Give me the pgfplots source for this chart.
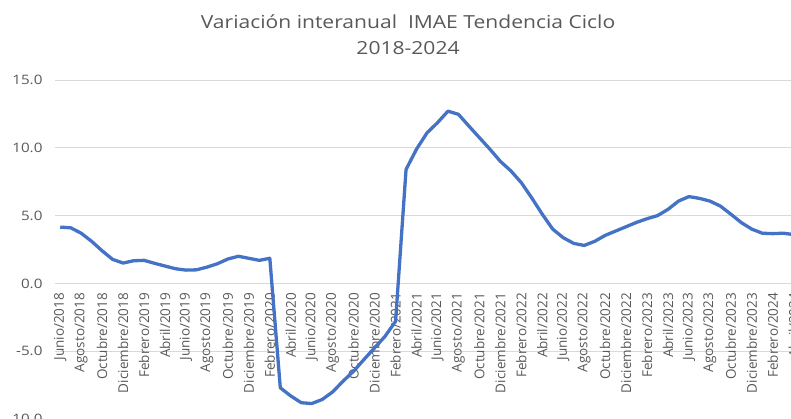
\documentclass[border=0pt]{standalone}
\usepackage{fontspec}
\setmainfont{Open Sans}
\newfontfamily\widefont[FakeStretch=1.17]{Open Sans}
\usepackage{pgfplots}
\pgfplotsset{compat=1.18}
\definecolor{txtgray}{HTML}{595959}
\definecolor{gridgray}{HTML}{D9D9D9}
\definecolor{lineblue}{HTML}{4472C4}
\begin{document}
\begin{tikzpicture}
\begin{axis}[
  scale only axis,
  width=744pt, height=339pt,
  xmin=-0.5, xmax=70.5,
  ymin=-10, ymax=15,
  axis x line=middle,
  axis y line=left,
  x axis line style={gridgray, line width=0.9pt, -},
  y axis line style={draw=none},
  major tick length=0pt,
  ytick={-10,-5,0,5,10,15},
  ymajorgrids,
  grid style={gridgray, line width=0.9pt},
  xtick={0,2,...,70},
  xticklabels={Junio/2018,Agosto/2018,Octubre/2018,Diciembre/2018,Febrero/2019,Abril/2019,Junio/2019,Agosto/2019,Octubre/2019,Diciembre/2019,Febrero/2020,Abril/2020,Junio/2020,Agosto/2020,Octubre/2020,Diciembre/2020,Febrero/2021,Abril/2021,Junio/2021,Agosto/2021,Octubre/2021,Diciembre/2021,Febrero/2022,Abril/2022,Junio/2022,Agosto/2022,Octubre/2022,Diciembre/2022,Febrero/2023,Abril/2023,Junio/2023,Agosto/2023,Octubre/2023,Diciembre/2023,Febrero/2024,Abril/2024},
  xticklabel style={rotate=90, anchor=east, font=\fontsize{13.5}{15}\selectfont, text=txtgray},
  xticklabel shift=6pt,
  yticklabel style={font=\widefont\fontsize{13}{15}\selectfont, text=txtgray, xshift=-9pt},
  /pgf/number format/.cd, fixed, fixed zerofill, precision=1, assume math mode=true,
]
\addplot[lineblue, line width=3.3pt, line join=round] coordinates {
(0,4.15) (1,4.1) (2,3.7) (3,3.1) (4,2.4) (5,1.77) (6,1.5) (7,1.67) (8,1.7) (9,1.48)
(10,1.28) (11,1.08) (12,0.98) (13,1.0) (14,1.2) (15,1.45) (16,1.8) (17,2.0) (18,1.85) (19,1.7)
(20,1.85) (21,-7.7) (22,-8.3) (23,-8.8) (24,-8.86) (25,-8.56) (26,-8.0) (27,-7.2) (28,-6.47) (29,-5.6)
(30,-4.75) (31,-3.9) (32,-2.8) (33,8.4) (34,9.9) (35,11.1) (36,11.85) (37,12.7) (38,12.47) (39,11.6)
(40,10.75) (41,9.9) (42,9.0) (43,8.3) (44,7.43) (45,6.3) (46,5.1) (47,4.0) (48,3.37) (49,2.95)
(50,2.8) (51,3.1) (52,3.54) (53,3.86) (54,4.18) (55,4.5) (56,4.77) (57,5.0) (58,5.46) (59,6.07)
(60,6.4) (61,6.27) (62,6.07) (63,5.7) (64,5.1) (65,4.48) (66,4.0) (67,3.7) (68,3.67) (69,3.7)
(70,3.6)
};
\coordinate (bl) at (rel axis cs:0,0);
\coordinate (tr) at (rel axis cs:1,1);
\coordinate (tt) at (rel axis cs:0.4745,1);
\end{axis}
\node[anchor=base, text=txtgray, font=\widefont\fontsize{18}{20}\selectfont] at ([yshift=51pt]tt) {Variación interanual\ \ IMAE Tendencia Ciclo};
\node[anchor=base, text=txtgray, font=\widefont\fontsize{18}{20}\selectfont] at ([yshift=25pt]tt) {2018-2024};
\pgfresetboundingbox
\useasboundingbox ([xshift=-55pt]bl) rectangle ([xshift=-8pt, yshift=80pt]tr);
\end{tikzpicture}
\end{document}
